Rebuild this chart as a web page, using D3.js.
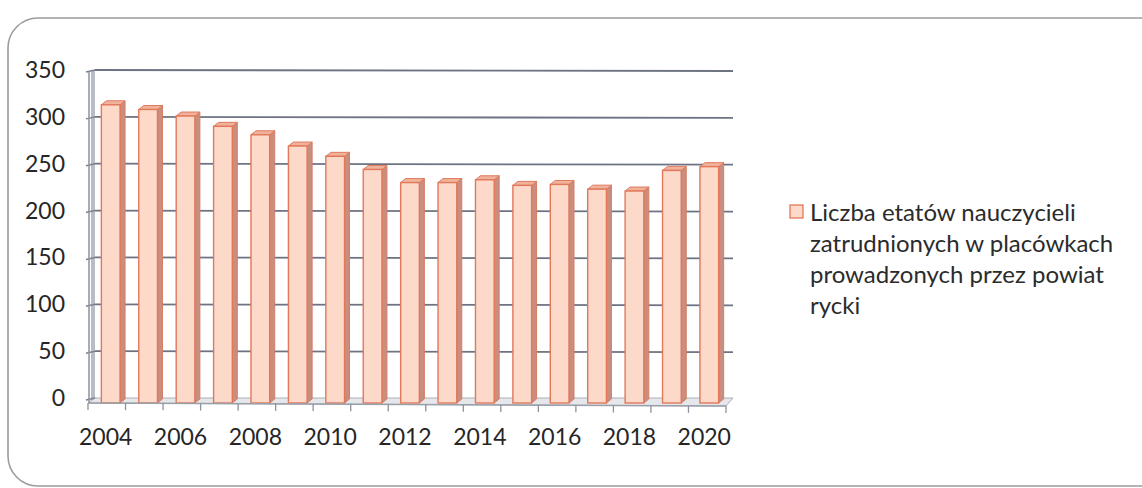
<!DOCTYPE html>
<html><head><meta charset="utf-8">
<script src="https://cdn.jsdelivr.net/npm/d3@7"></script>
<style>body{margin:0;background:#fff}svg{display:block}</style>
</head><body>
<svg id="c" width="1142" height="488"></svg>
<script>
const years = ["2004","2005","2006","2007","2008","2009","2010","2011","2012","2013","2014","2015","2016","2017","2018","2019","2020"];
const values = [315,310,303,292,283,271,260,246,232,232,235,229,230,225,223,245,249];
const yTicks = [0,50,100,150,200,250,300,350];
const xLabels = ["2004","2006","2008","2010","2012","2014","2016","2018","2020"];
const legendLines = ["Liczba etatów nauczycieli","zatrudnionych w placówkach","prowadzonych przez powiat","rycki"];

const svg = d3.select("#c");
const font = "Lato, 'Open Sans', sans-serif";

svg.append("rect").attr("x",8).attr("y",18).attr("width",1170).attr("height",468)
  .attr("rx",30).attr("fill","#fff").attr("stroke","#9c9c9c").attr("stroke-width",1.6);

const x = d3.scaleBand().domain(years).range([92,728]).paddingInner(0.5).paddingOuter(0.25);
const y = d3.scaleLinear().domain([0,350]).range([398,70]);
const dx = 5, dy = -4;

// back wall left edge
svg.append("rect").attr("x",91).attr("y",y(350)).attr("width",4).attr("height",y(0)-y(350)+4).attr("fill","#b9bcc4");

// floor
const floorFront = 403;
svg.append("path").attr("d",`M88,${floorFront} L726,${floorFront+3} L733,${y(0)} L95,${y(0)} Z`)
  .attr("fill","#e6e7ea").attr("stroke","#aab0b8").attr("stroke-width",1);

// gridlines
svg.append("g").selectAll("line").data(yTicks.filter(d=>d>0)).join("line")
  .attr("x1",95).attr("x2",733).attr("y1",d=>y(d)).attr("y2",d=>y(d)+1)
  .attr("stroke","#6d7382").attr("stroke-width",1.8);
svg.append("g").selectAll("line").data(yTicks).join("line")
  .attr("x1",86).attr("x2",95).attr("y1",d=>y(d)+2).attr("y2",d=>y(d))
  .attr("stroke","#7d8290").attr("stroke-width",1.5);
// left axis line
svg.append("line").attr("x1",89).attr("x2",89).attr("y1",y(350)+2).attr("y2",floorFront)
  .attr("stroke","#8d919c").attr("stroke-width",1.5);

// y labels
svg.append("g").selectAll("text").data(yTicks).join("text")
  .attr("x",65).attr("y",d=>y(d)+8).attr("text-anchor","end")
  .attr("font-family",font).attr("font-size",23).attr("fill","#262626").text(d=>d);

// bars
const bars = svg.append("g").selectAll("g").data(years.map((yr,i)=>({yr,v:values[i]}))).join("g");
const bw = x.bandwidth();
bars.append("path").attr("d",d=>{
  const x0=x(d.yr)+bw, t=y(d.v)+2, b=floorFront;
  return `M${x0},${t} L${x0+dx},${t+dy} L${x0+dx},${b+dy} L${x0},${b} Z`;
}).attr("fill","#c98e80").attr("stroke","#d67d62").attr("stroke-width",1);
bars.append("path").attr("d",d=>{
  const x0=x(d.yr), t=y(d.v)+2;
  return `M${x0},${t} L${x0+dx},${t+dy} L${x0+bw+dx},${t+dy} L${x0+bw},${t} Z`;
}).attr("fill","#f1b29c").attr("stroke","#df7a5c").attr("stroke-width",1);
bars.append("rect").attr("x",d=>x(d.yr)).attr("y",d=>y(d.v)+2).attr("width",bw)
  .attr("height",d=>floorFront-y(d.v)-2).attr("fill","#fdd9ca").attr("stroke","#e2785a").attr("stroke-width",1.4);

// x axis line & ticks
svg.append("line").attr("x1",88).attr("x2",726).attr("y1",floorFront).attr("y2",floorFront+3)
  .attr("stroke","#9aa0aa").attr("stroke-width",1.5);
const bounds = d3.range(years.length+1);
svg.append("g").selectAll("line").data(bounds).join("line")
  .attr("x1",(d)=>88+d*(726-88)/years.length).attr("x2",(d)=>88+d*(726-88)/years.length)
  .attr("y1",d=>floorFront+d*3/years.length).attr("y2",d=>floorFront+d*3/years.length+7)
  .attr("stroke","#8d919c").attr("stroke-width",1.3);

svg.append("g").selectAll("text").data(xLabels).join("text")
  .attr("x",d=>x(d)+bw/2-5).attr("y",445).attr("text-anchor","middle")
  .attr("font-family",font).attr("font-size",23).attr("fill","#262626").text(d=>d);

// legend
svg.append("rect").attr("x",790).attr("y",205).attr("width",13).attr("height",13)
  .attr("fill","#fdd9ca").attr("stroke","#e2785a").attr("stroke-width",1.3);
svg.append("g").selectAll("text").data(legendLines).join("text")
  .attr("x",810).attr("y",(d,i)=>221+i*31)
  .attr("font-family",font).attr("font-size",24).attr("fill","#2b2b2b").text(d=>d);
</script>
</body></html>
